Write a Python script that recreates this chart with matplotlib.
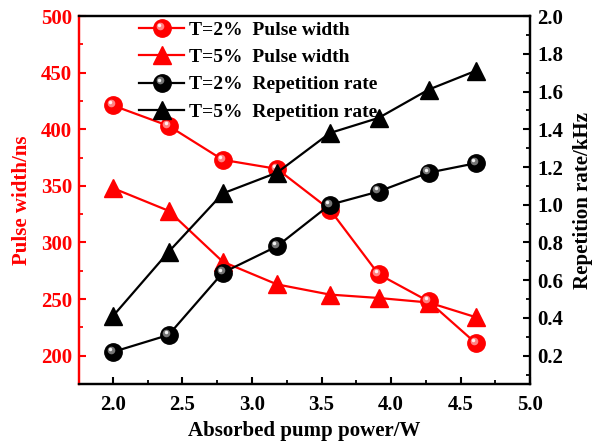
import numpy as np
import matplotlib
matplotlib.use("Agg")
import matplotlib.pyplot as plt
from matplotlib.ticker import MultipleLocator
from matplotlib.transforms import offset_copy, ScaledTranslation
from matplotlib.legend_handler import HandlerTuple, HandlerLine2D

plt.rcParams['font.family'] = ['Liberation Serif', 'DejaVu Serif']
plt.rcParams['font.weight'] = 'bold'

# absorbed pump power (W)
power = [2.0, 2.4, 2.79, 3.18, 3.56, 3.91, 4.27, 4.61]

# pulse width (ns)
pw_t2 = [421, 403, 373, 365, 329, 272, 248, 211]
pw_t5 = [348, 328, 283, 263, 254, 251, 247, 234]

# repetition rate (kHz)
rr_t2 = [0.22, 0.31, 0.64, 0.78, 1.00, 1.07, 1.17, 1.22]
rr_t5 = [0.41, 0.75, 1.06, 1.17, 1.38, 1.46, 1.61, 1.71]

labels = ["T=2%  Pulse width", "T=5%  Pulse width",
          "T=2%  Repetition rate", "T=5%  Repetition rate"]

fig = plt.figure(figsize=(5.93, 4.45), dpi=100)
ax = fig.add_axes([0.133, 0.137, 0.761, 0.827])
ax2 = ax.twinx()

ms = 12.5
lw = 1.6
HL = [(-1.6, 1.6), (-2.2, 2.2)]  # highlight offsets in points


class ShiftedHandler(HandlerLine2D):
    def __init__(self, dx, dy, **kw):
        super().__init__(**kw)
        self.dx, self.dy = dx, dy

    def create_artists(self, legend, orig_handle, xdescent, ydescent,
                       width, height, fontsize, trans):
        trans = trans + ScaledTranslation(self.dx / 72, self.dy / 72,
                                          fig.dpi_scale_trans)
        return super().create_artists(legend, orig_handle, xdescent, ydescent,
                                      width, height, fontsize, trans)


def sphere(axis, x, y, light):
    # highlight spots that give the round markers their shaded look
    tr1 = offset_copy(axis.transData, fig=fig, x=HL[0][0], y=HL[0][1], units='points')
    tr2 = offset_copy(axis.transData, fig=fig, x=HL[1][0], y=HL[1][1], units='points')
    h, = axis.plot(x, y, 'o', ms=5.5, color=light, mec='none', alpha=0.85,
                   transform=tr1, zorder=5)
    h2, = axis.plot(x, y, 'o', ms=2.5, color='white', mec='none', alpha=0.9,
                    transform=tr2, zorder=6)
    return h, h2

l1, = ax.plot(power, pw_t2, '-o', color='red', lw=lw, ms=ms, mec='red', zorder=3)
s1 = sphere(ax, power, pw_t2, '#ff9a9a')
l2, = ax.plot(power, pw_t5, '-^', color='red', lw=lw, ms=ms + 1, mec='red', zorder=3)

l3, = ax2.plot(power, rr_t2, '-o', color='black', lw=lw, ms=ms, mec='black', zorder=3)
s3 = sphere(ax2, power, rr_t2, '#8a8a8a')
l4, = ax2.plot(power, rr_t5, '-^', color='black', lw=lw, ms=ms + 1, mec='black', zorder=3)

fs = 15
xt = np.arange(2.0, 5.01, 0.5)
ax.set_xticks(xt)
ax.set_xticklabels([f"{v:.1f}" for v in xt])
ax.xaxis.set_minor_locator(MultipleLocator(0.25))
ax.yaxis.set_major_locator(MultipleLocator(50))
ax.yaxis.set_minor_locator(MultipleLocator(25))
rt = np.arange(0.2, 2.01, 0.2)
ax2.set_yticks(rt)
ax2.set_yticklabels([f"{v:.1f}" for v in rt])
ax2.yaxis.set_minor_locator(MultipleLocator(0.1))

ax.set_xlim(1.755, 5.0)
ax.set_ylim(175, 500)
ax2.set_ylim(0.05, 2.0)

for a in (ax, ax2):
    for sp in a.spines.values():
        sp.set_linewidth(1.6)
    a.tick_params(which='major', direction='in', length=5, width=1.5, labelsize=fs, pad=5)
    a.tick_params(which='minor', direction='in', length=2.8, width=1.3)

ax.tick_params(axis='x', top=False, which='both', pad=8)
ax.tick_params(axis='y', colors='red', which='both')
ax.spines['left'].set_color('red')
ax2.spines['left'].set_color('red')
ax2.tick_params(axis='y', colors='black', which='both')

ax.set_xlabel("Absorbed pump power/W", fontsize=fs, fontweight='bold', labelpad=4)
ax.set_ylabel("Pulse width/ns", fontsize=fs, fontweight='bold', color='red', labelpad=6)
ax2.set_ylabel("Repetition rate/kHz", fontsize=fs, fontweight='bold', labelpad=7)

hmap = {tuple: HandlerTuple(ndivide=1, pad=0)}
for s in (s1, s3):
    hmap[s[0]] = ShiftedHandler(*HL[0])
    hmap[s[1]] = ShiftedHandler(*HL[1])

leg = ax2.legend([(l1, s1[0], s1[1]), l2, (l3, s3[0], s3[1]), l4], labels,
                 handler_map=hmap,
                 loc='upper left', bbox_to_anchor=(0.117, 1.007), frameon=False,
                 fontsize=14, handlelength=2.3, handletextpad=0.25,
                 labelspacing=0.5, borderaxespad=0, numpoints=1)
leg.set_zorder(10)

fig.savefig("out.png", dpi=100)
